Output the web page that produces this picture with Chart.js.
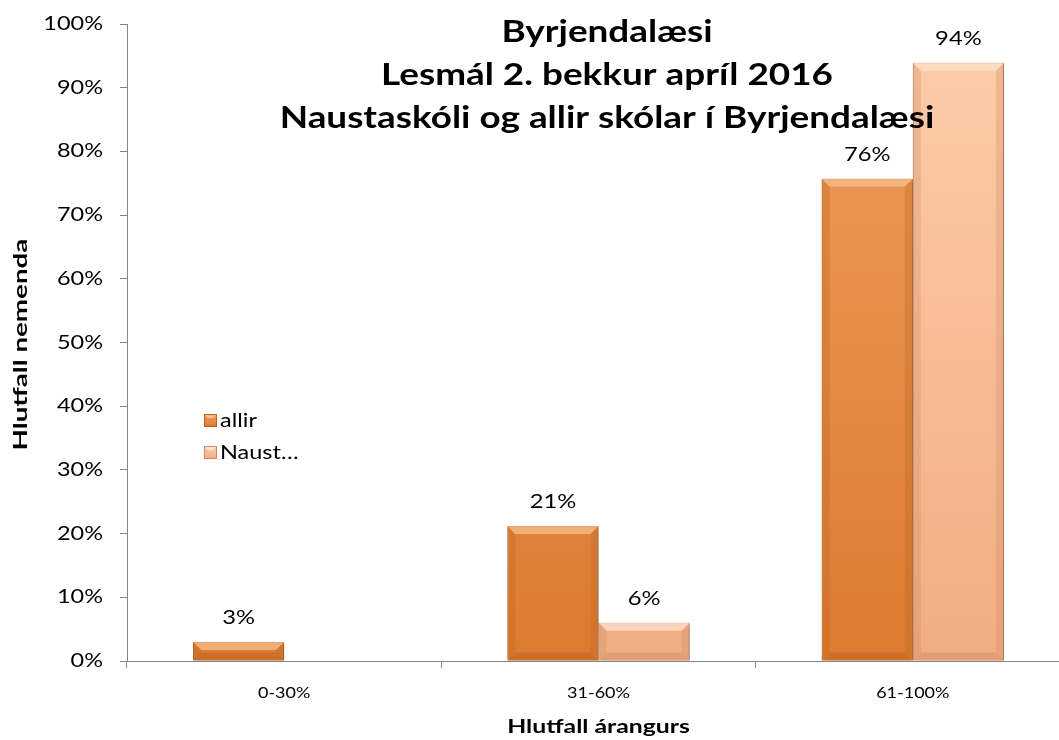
<!DOCTYPE html>
<html>
<head>
<meta charset="utf-8">
<script src="https://cdn.jsdelivr.net/npm/chart.js@4"></script>
<style>
  html, body { margin: 0; padding: 0; background: #fff; overflow: hidden; }
  #wrap { width: 1072px; height: 740px; }
</style>
</head>
<body>
<div id="wrap"><canvas id="chart" width="1072" height="740"></canvas></div>
<script>
const categories = ['0-30%', '31-60%', '61-100%'];
const allir = [0.03, 0.212, 0.757];
const naust = [null, 0.06, 0.939];
const seriesNames = ['allir', 'Naust…'];
const titleLines = ['Byrjendalæsi', 'Lesmál 2. bekkur apríl 2016', 'Naustaskóli og allir skólar í Byrjendalæsi'];
const xTitle = 'Hlutfall árangurs';
const yTitle = 'Hlutfall nemenda';

const FONT = 'Lato, "Liberation Sans", sans-serif';

// colours for each series: [top, bottom, edge, bevel-light]
const palette = [
  ['#EE9E5C', '#DD7A30', '#B9621F', '#F6BE8E'],
  ['#FCCDAA', '#F2AC84', '#D08B64', '#FEE2CD']
];

function barFill(i) {
  return function (ctx) {
    const area = ctx.chart.chartArea;
    if (!area) return palette[i][0];
    const g = ctx.chart.ctx.createLinearGradient(0, area.top, 0, area.bottom);
    g.addColorStop(0, palette[i][0]);
    g.addColorStop(1, palette[i][1]);
    return g;
  };
}

// text in the original is wide, so stretch it along its direction
function wideText(c, text, x, y, font, sx, align, rot) {
  c.save();
  c.translate(x, y);
  if (rot) c.rotate(-Math.PI / 2);
  c.scale(sx, 1);
  c.font = font;
  c.fillStyle = '#000';
  c.textAlign = align;
  c.textBaseline = 'middle';
  c.fillText(text, 0, 0);
  c.restore();
}

// soft drop shadow behind the bars
const shadowPlugin = {
  id: 'shadow',
  beforeDatasetDraw(chart) {
    const c = chart.ctx;
    c.save();
    c.shadowColor = 'rgba(0,0,0,0.35)';
    c.shadowBlur = 4;
    c.shadowOffsetX = 2;
    c.shadowOffsetY = 1;
  },
  afterDatasetDraw(chart) {
    chart.ctx.restore();
  }
};

// bevel highlight, value labels, axis text, legend and title
const decorPlugin = {
  id: 'decor',
  afterDatasetsDraw(chart) {
    const c = chart.ctx;
    chart.data.datasets.forEach((ds, di) => {
      const meta = chart.getDatasetMeta(di);
      meta.data.forEach((bar, i) => {
        const v = ds.data[i];
        if (v == null) return;
        const x0 = bar.x - bar.width / 2, x1 = bar.x + bar.width / 2;
        const y0 = bar.y, y1 = bar.base;
        const b = Math.min(8, (y1 - y0) / 2);
        c.save();
        c.fillStyle = palette[di][3];
        c.globalAlpha = 0.75;
        c.beginPath();
        c.moveTo(x0, y0); c.lineTo(x1, y0); c.lineTo(x1 - b, y0 + b); c.lineTo(x0 + b, y0 + b); c.closePath();
        c.fill();
        c.globalAlpha = 0.3;
        c.fillStyle = palette[di][2];
        c.beginPath();
        c.moveTo(x0, y0); c.lineTo(x0 + b, y0 + b); c.lineTo(x0 + b, y1 - b); c.lineTo(x0, y1); c.closePath();
        c.fill();
        c.beginPath();
        c.moveTo(x1, y0); c.lineTo(x1 - b, y0 + b); c.lineTo(x1 - b, y1 - b); c.lineTo(x1, y1); c.closePath();
        c.fill();
        c.globalAlpha = 0.45;
        c.beginPath();
        c.moveTo(x0, y1); c.lineTo(x0 + b, y1 - b); c.lineTo(x1 - b, y1 - b); c.lineTo(x1, y1); c.closePath();
        c.fill();
        c.restore();
        wideText(c, Math.round(v * 100) + '%', bar.x, y0 - 24, '19px ' + FONT, 1.25, 'center');
      });
    });
  },
  afterDraw(chart) {
    const c = chart.ctx;
    const a = chart.chartArea;
    const xs = chart.scales.x, ys = chart.scales.y;

    // y tick labels
    ys.ticks.forEach(t => {
      wideText(c, Math.round(t.value * 100) + '%', 103, ys.getPixelForValue(t.value), '18.8px ' + FONT, 1.25, 'right');
    });
    // x tick labels
    categories.forEach((lab, i) => {
      wideText(c, lab, xs.getPixelForValue(i), a.bottom + 32, '15px ' + FONT, 1.2, 'center');
    });
    // axis titles
    wideText(c, xTitle, (a.left + a.right) / 2, a.bottom + 66, 'bold 19.5px ' + FONT, 1.27, 'center');
    wideText(c, yTitle, 21, (a.top + a.bottom) / 2 + 2, 'bold 18.5px ' + FONT, 1.5, 'center', true);

    // legend inside the plot
    chart.data.datasets.forEach((ds, di) => {
      const lx = a.left + 77, ly = 414 + di * 32;
      c.save();
      const g = c.createLinearGradient(0, ly, 0, ly + 13);
      g.addColorStop(0, palette[di][0]);
      g.addColorStop(1, palette[di][1]);
      c.fillStyle = g;
      c.fillRect(lx, ly, 13, 13);
      c.fillStyle = palette[di][3];
      c.beginPath();
      c.moveTo(lx, ly); c.lineTo(lx + 13, ly); c.lineTo(lx + 9, ly + 4); c.lineTo(lx + 4, ly + 4); c.closePath();
      c.fill();
      c.strokeStyle = palette[di][2];
      c.lineWidth = 1;
      c.strokeRect(lx + 0.5, ly + 0.5, 12, 12);
      c.restore();
      wideText(c, ds.label, lx + 16, ly + 7, '18.5px ' + FONT, 1.27, 'left');
    });

    // title overlaid on the plot
    titleLines.forEach((t, i) => {
      wideText(c, t, 607, 32 + i * 43, 'bold 29.5px ' + FONT, 1.25, 'center');
    });
  }
};

new Chart(document.getElementById('chart'), {
  type: 'bar',
  data: {
    labels: categories,
    datasets: [
      {
        label: seriesNames[0],
        data: allir,
        backgroundColor: barFill(0),
        borderColor: palette[0][2],
        borderWidth: 1,
        categoryPercentage: 0.58,
        barPercentage: 1
      },
      {
        label: seriesNames[1],
        data: naust,
        backgroundColor: barFill(1),
        borderColor: palette[1][2],
        borderWidth: 1,
        categoryPercentage: 0.58,
        barPercentage: 1
      }
    ]
  },
  plugins: [shadowPlugin, decorPlugin],
  options: {
    responsive: false,
    animation: false,
    devicePixelRatio: 1,
    layout: { padding: { left: 0, right: 2, top: 24, bottom: 0 } },
    plugins: {
      legend: { display: false },
      title: { display: false },
      tooltip: { enabled: false }
    },
    scales: {
      x: {
        grid: { drawOnChartArea: false, color: '#868686', tickLength: 7 },
        border: { color: '#868686' },
        ticks: { display: false },
        afterFit(s) { s.height = 79; }
      },
      y: {
        min: 0,
        max: 1,
        grid: { drawOnChartArea: false, color: '#868686', tickLength: 7 },
        border: { color: '#868686' },
        ticks: { display: false, stepSize: 0.1 },
        afterFit(s) { s.width = 127; }
      }
    }
  }
});
</script>
</body>
</html>
